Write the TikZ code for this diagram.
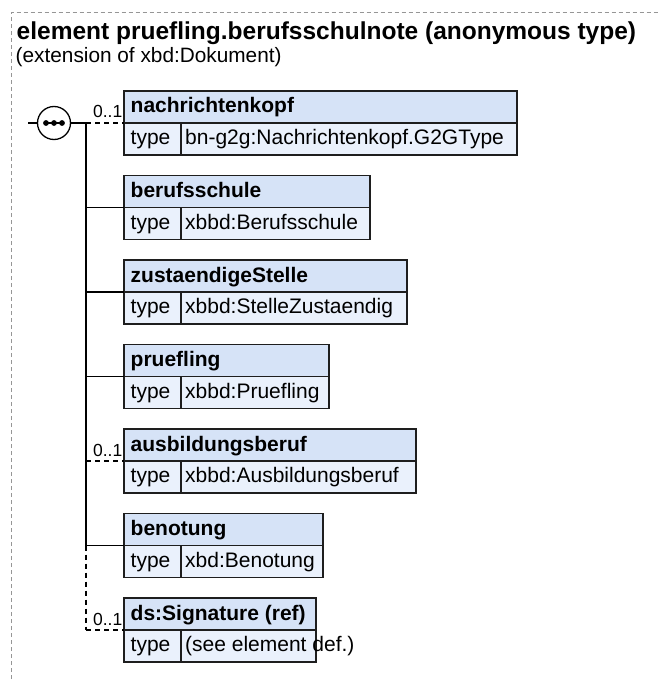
\documentclass[tikz,border=0pt]{standalone}
\usepackage{fontspec}
\setmainfont{Liberation Sans}
\definecolor{hdrfill}{RGB}{214,227,247}
\definecolor{rowfill}{RGB}{234,241,252}
\definecolor{boxline}{RGB}{30,30,30}
\definecolor{framegray}{RGB}{150,150,150}
\newcommand\titlefont{\fontsize{24.5}{29}\selectfont\bfseries}
\newcommand\subfont{\fontsize{20.8}{25}\selectfont}
\newcommand\hfont{\fontsize{21}{25}\selectfont\bfseries}
\newcommand\tfont{\fontsize{21}{25}\selectfont}
\newcommand\cfont{\fontsize{17.5}{21}\selectfont}
\tikzset{
  hdr/.style={draw=boxline, line width=1.8pt, fill=hdrfill, rectangle, minimum height=32pt, inner sep=0pt, outer sep=0pt, anchor=north west},
  rowcell/.style={draw=boxline, line width=1.8pt, fill=rowfill, rectangle, minimum height=32pt, inner sep=0pt, outer sep=0pt, anchor=north west},
  htxt/.style={font=\hfont, anchor=base west, inner sep=0pt},
  ttxt/.style={font=\tfont, anchor=base west, inner sep=0pt},
  conn/.style={line width=1.3pt, draw=black},
  opt/.style={conn, dash pattern=on 5pt off 4pt},
  card/.style={font=\cfont, anchor=base east, inner sep=0pt},
  frame/.style={draw=framegray, line width=1pt, dash pattern=on 4pt off 3pt},
}
% name, top y, width, header text, value text
\newcommand\ElBox[5]{%
  \node[hdr, minimum width=#3pt] (#1) at (124,#2) {};
  \node[rowcell, minimum width=57pt] (#1t) at (#1.south west) {};
  \node[rowcell, minimum width={#3pt-57pt}] (#1v) at (#1t.north east) {};
  \node[htxt] (#1n) at ([xshift=6.5pt, yshift=-22pt]#1.north west) {#4};
  \node[ttxt] (#1k) at ([xshift=6.5pt, yshift=-21.5pt]#1t.north west) {type};
  \node[ttxt] (#1w) at ([xshift=4pt, yshift=-21.5pt]#1v.north west) {#5};
}
\begin{document}
\begin{tikzpicture}[x=1pt, y=-1pt]
\useasboundingbox (0,0) rectangle (660,679);
% outer frame
\coordinate (fbl) at (11,679);
\coordinate (ftl) at (11,12.7);
\coordinate (ftr) at (660,12.7);
\draw[frame] (fbl) -- (ftl) -- (ftr);
% title
\node[font=\titlefont, anchor=base west, inner sep=0pt] (title) at (16.5,40) {element pruefling.berufsschulnote (anonymous type)};
\node[font=\subfont, anchor=base west, inner sep=0pt] (subtitle) at (15.5,63) {(extension of xbd:Dokument)};
% boxes
\ElBox{b1}{91}{392.7}{nachrichtenkopf}{bn-g2g:Nachrichtenkopf.G2GType}
\ElBox{b2}{175.5}{246}{berufsschule}{xbbd:Berufsschule}
\ElBox{b3}{260}{283}{zustaendigeStelle}{xbbd:StelleZustaendig}
\ElBox{b4}{344.5}{205}{pruefling}{xbbd:Pruefling}
\ElBox{b5}{429}{292}{ausbildungsberuf}{xbbd:Ausbildungsberuf}
\ElBox{b6}{513.5}{199.3}{benotung}{xbd:Benotung}
\ElBox{b7}{598}{192}{ds:Signature (ref)}{(see element def.)}
% sequence compositor
\coordinate (in) at (28,123);
\node[circle, draw=black, line width=1.3pt, fill=white, minimum size=33pt, inner sep=0pt] (seq) at (54,123) {};
\draw[line width=1.4pt] (44,123) -- (64,123);
\fill (46,123) circle (2.9pt) (54,123) circle (2.9pt) (62,123) circle (2.9pt);
\draw[conn] (in) -- (seq.west);
% trunk junctions
\coordinate (j1) at (86,123);
\coordinate (j2) at (86,207.5);
\coordinate (j3) at (86,292);
\coordinate (j4) at (86,376.5);
\coordinate (j5) at (86,461);
\coordinate (j6) at (86,545.5);
\coordinate (j7) at (86,630);
\draw[conn] (seq.east) -- (j1);
\draw[conn] (j1) -- (j6);
\draw[opt] (j6) -- (j7);
% branches
\draw[opt] (j1) -- (b1.south west);
\draw[conn] (j2) -- (b2.south west);
\draw[conn] (j3) -- (b3.south west);
\draw[conn] (j4) -- (b4.south west);
\draw[opt] (j5) -- (b5.south west);
\draw[conn] (j6) -- (b6.south west);
\draw[opt] (j7) -- (b7.south west);
% cardinalities
\node[card] (c1) at ([xshift=-1.5pt, yshift=5pt]b1.south west) {0..1};
\node[card] (c5) at ([xshift=-1.5pt, yshift=5pt]b5.south west) {0..1};
\node[card] (c7) at ([xshift=-1.5pt, yshift=5pt]b7.south west) {0..1};
\end{tikzpicture}
\end{document}
